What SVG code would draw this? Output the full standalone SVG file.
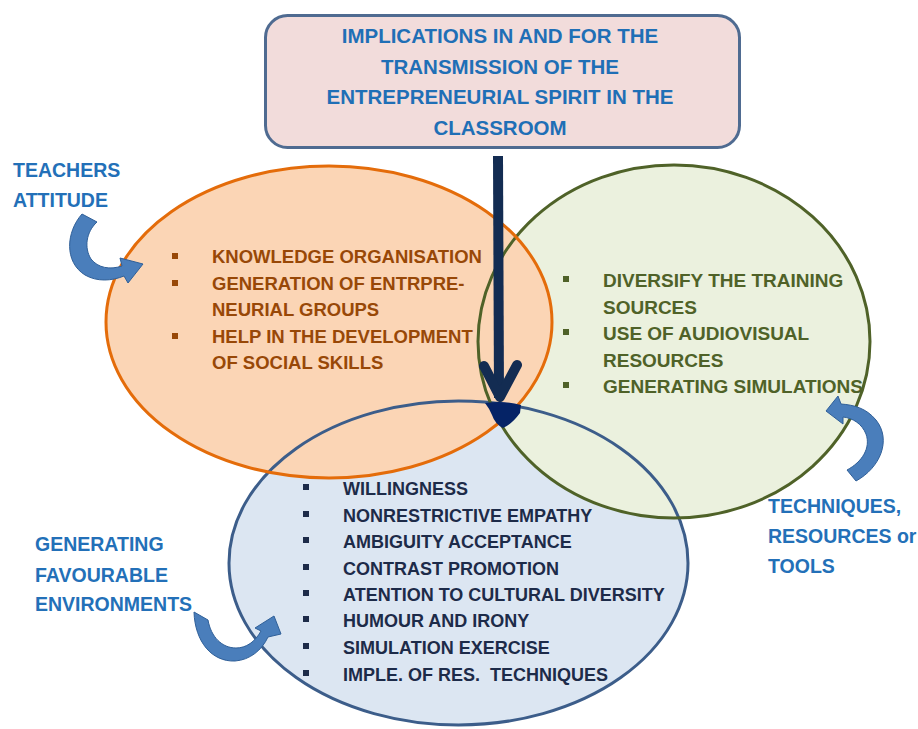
<svg xmlns="http://www.w3.org/2000/svg" width="918" height="729" viewBox="0 0 918 729">
<style>
text { font-family: "Liberation Sans", Arial, sans-serif; font-weight: bold; }
.title { fill: #1f6fb6; font-size: 20.5px; text-anchor: middle; }
.lbl { fill: #2370b8; font-size: 19.5px; }
.to { fill: #984807; font-size: 18.5px; }
.tg { fill: #4f6228; font-size: 19px; }
.tb { fill: #1d2b49; font-size: 18px; }
.bo { fill: #984807; }
.bg { fill: #4f6228; }
.bb { fill: #1d2b49; }
.curved { fill: #4a7ebb; stroke: #2f5f98; stroke-width: 1; }
.outline { fill: none; stroke-width: 3; }
</style>
<rect width="918" height="729" fill="#ffffff"/>

<g id="node-environments">
  <ellipse cx="458.5" cy="563" rx="229.5" ry="162" fill="#dce6f2"/>
  <rect class="bb" x="303" y="484" width="6" height="6"/>
  <rect class="bb" x="303" y="511" width="6" height="6"/>
  <rect class="bb" x="303" y="537" width="6" height="6"/>
  <rect class="bb" x="303" y="564" width="6" height="6"/>
  <rect class="bb" x="303" y="590" width="6" height="6"/>
  <rect class="bb" x="303" y="616" width="6" height="6"/>
  <rect class="bb" x="303" y="643" width="6" height="6"/>
  <rect class="bb" x="303" y="670" width="6" height="6"/>
  <text class="tb" x="343" y="495">WILLINGNESS</text>
  <text class="tb" x="343" y="522">NONRESTRICTIVE EMPATHY</text>
  <text class="tb" x="343" y="548">AMBIGUITY ACCEPTANCE</text>
  <text class="tb" x="343" y="575">CONTRAST PROMOTION</text>
  <text class="tb" x="343" y="601">ATENTION TO CULTURAL DIVERSITY</text>
  <text class="tb" x="343" y="627">HUMOUR AND IRONY</text>
  <text class="tb" x="343" y="654">SIMULATION EXERCISE</text>
  <text class="tb" x="343" y="681" style="white-space:pre">IMPLE. OF RES.  TECHNIQUES</text>
</g>

<g id="node-techniques">
  <ellipse cx="674" cy="341.5" rx="196" ry="176.5" fill="#ebf1de"/>
  <rect class="bg" x="563" y="276" width="6" height="6"/>
  <rect class="bg" x="563" y="329" width="6" height="6"/>
  <rect class="bg" x="563" y="382" width="6" height="6"/>
  <text class="tg" x="603" y="287">DIVERSIFY THE TRAINING</text>
  <text class="tg" x="603" y="314">SOURCES</text>
  <text class="tg" x="603" y="340">USE OF AUDIOVISUAL</text>
  <text class="tg" x="603" y="367">RESOURCES</text>
  <text class="tg" x="603" y="393">GENERATING SIMULATIONS</text>
</g>

<g id="node-teachers">
  <ellipse cx="329" cy="322" rx="223" ry="156" fill="#fbd5b5"/>
  <rect class="bo" x="172" y="253" width="6" height="6"/>
  <rect class="bo" x="172" y="280" width="6" height="6"/>
  <rect class="bo" x="172" y="333" width="6" height="6"/>
  <text class="to" x="212" y="263">KNOWLEDGE ORGANISATION</text>
  <text class="to" x="212" y="290">GENERATION OF ENTRPRE-</text>
  <text class="to" x="212" y="316">NEURIAL GROUPS</text>
  <text class="to" x="212" y="343">HELP IN THE DEVELOPMENT</text>
  <text class="to" x="212" y="369">OF SOCIAL SKILLS</text>
</g>

<g id="outlines">
  <ellipse class="outline" cx="458.5" cy="563" rx="229.5" ry="162" stroke="#3c5d8a"/>
  <ellipse class="outline" cx="674" cy="341.5" rx="196" ry="176.5" stroke="#4f6228"/>
  <ellipse class="outline" cx="329" cy="322" rx="223" ry="156" stroke="#e46c0a"/>
</g>

<g id="node-title">
  <rect x="265.5" y="15.5" width="474" height="132" rx="22" ry="22" fill="#f2dcdb" stroke="#4f6b91" stroke-width="3"/>
  <text class="title" x="500" y="43">IMPLICATIONS IN AND FOR THE</text>
  <text class="title" x="500" y="74">TRANSMISSION OF THE</text>
  <text class="title" x="500" y="104">ENTREPRENEURIAL SPIRIT IN THE</text>
  <text class="title" x="500" y="135">CLASSROOM</text>
</g>

<g id="label-teachers">
  <text class="lbl" x="13" y="177">TEACHERS</text>
  <text class="lbl" x="13" y="207">ATTITUDE</text>
</g>
<g id="label-techniques">
  <text class="lbl" x="768" y="513">TECHNIQUES,</text>
  <text class="lbl" x="768" y="543">RESOURCES or</text>
  <text class="lbl" x="768" y="573">TOOLS</text>
</g>
<g id="label-environments">
  <text class="lbl" x="35" y="551">GENERATING</text>
  <text class="lbl" x="35" y="582">FAVOURABLE</text>
  <text class="lbl" x="35" y="611">ENVIRONMENTS</text>
</g>

<g id="connectors">
  <path d="M498,156 L499,398" fill="none" stroke="#132c52" stroke-width="10"/>
  <path d="M484,366 L500,397 L517,365" fill="none" stroke="#132c52" stroke-width="10" stroke-linecap="round" stroke-linejoin="round"/>
  <path d="M485,403 Q503,400 521,405 L520,413 Q512,424 503,428 Q495,424 492,415 Q489,408 485,403 Z" fill="#052366"/>
  <path class="curved" d="M82,214 C66,232 64,262 85,275 C97,282 112,281 124,276 L128,283 L143,264 L120,258 L122,266 C110,270 98,268 91,259 C84,248 86,232 97,222 Z"/>
  <path class="curved" d="M856,481 C880,468 892,440 876,420 C866,408 854,405 841,404 L838,396 L826,411 L843,424 L843,417 C853,418 862,424 866,434 C871,448 862,462 847,470 Z"/>
  <path class="curved" d="M194,612 C195,642 212,662 235,661 C250,660 262,650 268,637 L281,634 L274,616 L255,628 L261,631 C255,642 246,648 236,648 C222,648 211,637 208,620 Z"/>
</g>
</svg>
